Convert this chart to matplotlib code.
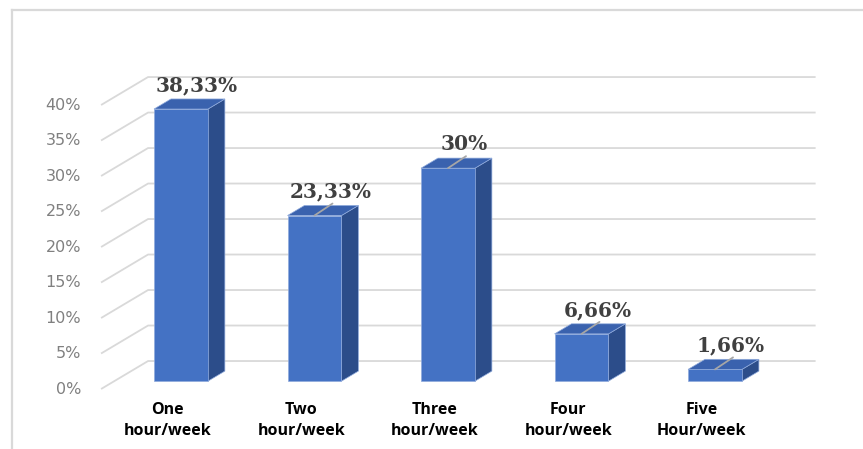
import matplotlib
matplotlib.use("Agg")
import matplotlib.pyplot as plt
from matplotlib.lines import Line2D

categories = ["One\nhour/week", "Two\nhour/week", "Three\nhour/week",
              "Four\nhour/week", "Five\nHour/week"]
values = [38.33, 23.33, 30.0, 6.66, 1.66]
value_labels = ["38,33%", "23,33%", "30%", "6,66%", "1,66%"]
ticks = [0, 5, 10, 15, 20, 25, 30, 35, 40]

# oblique projection: depth t in [0, 1] shifts right and up
DX = 0.352     # category units per unit depth
DY = 3.94      # percent units per unit depth
T0, T1 = 0.28, 0.64   # bar front / back depth
W = 0.404      # bar width

FRONT = "#4472C4"
SIDE = "#2C4D8A"
TOP = "#3A62AE"
GRID = "#D9D9D9"


def proj(x, v, t):
    return x + t * DX, v + t * DY


fig = plt.figure(figsize=(8.63, 4.49), dpi=100)
ax = fig.add_axes([0, 0, 1, 1])
ax.set_xlim(-1.257, 5.207)
ax.set_ylim(-8.45, 54.79)
ax.axis("off")

# outer frame (left and top only)
fig.add_artist(Line2D([12 / 863, 12 / 863], [0, 1 - 10 / 449],
                      color=GRID, lw=1.6, transform=fig.transFigure))
fig.add_artist(Line2D([12 / 863, 1], [1 - 10 / 449, 1 - 10 / 449],
                      color=GRID, lw=1.6, transform=fig.transFigure))

n = len(categories)
x_left, x_right = -0.5, n - 0.5

# gridlines: diagonal on the side wall, then along the back wall
for v in ticks:
    x0, y0 = proj(x_left, v, 0)
    x1, y1 = proj(x_left, v, 1)
    x2, y2 = proj(x_right, v, 1)
    ax.plot([x0, x1, x2], [y0, y1, y2], color=GRID, lw=1.3,
            solid_capstyle="butt", zorder=1)
    ax.text(x0 - 0.15, v, f"{v}%", ha="right", va="center",
            fontsize=11.5, color="#808080", family="DejaVu Sans")

for i, v in enumerate(values):
    xl, xr = i - W / 2, i + W / 2
    front = [proj(xl, 0, T0), proj(xr, 0, T0), proj(xr, v, T0), proj(xl, v, T0)]
    side = [proj(xr, 0, T0), proj(xr, 0, T1), proj(xr, v, T1), proj(xr, v, T0)]
    top = [proj(xl, v, T0), proj(xr, v, T0), proj(xr, v, T1), proj(xl, v, T1)]
    for poly, col in ((side, SIDE), (top, TOP), (front, FRONT)):
        xs, ys = zip(*poly)
        ax.fill(xs, ys, facecolor=col, edgecolor="#8FAADC", lw=0.5, zorder=3)

    # value label with a short leader line from the bar's top edge
    sx, sy = proj(i, v, T0)
    ax.annotate(value_labels[i], (sx, sy), xytext=(16, 24),
                textcoords="offset pixels", ha="center", va="center",
                fontsize=14.5, fontweight="bold", color="#404040",
                family="DejaVu Serif", zorder=5)
    if i > 0:
        ax.annotate("", (sx, sy), xytext=(18, 12), textcoords="offset pixels",
                    arrowprops=dict(arrowstyle="-", color="#A6A6A6", lw=1.3,
                                    shrinkA=0, shrinkB=0), zorder=4)

    # category label under the floor front edge
    ax.text(i, -4.4, categories[i], ha="center", va="center", fontsize=11.5,
            fontweight="bold", color="black", family="Open Sans",
            linespacing=1.45)

fig.savefig("out.png", dpi=100)
